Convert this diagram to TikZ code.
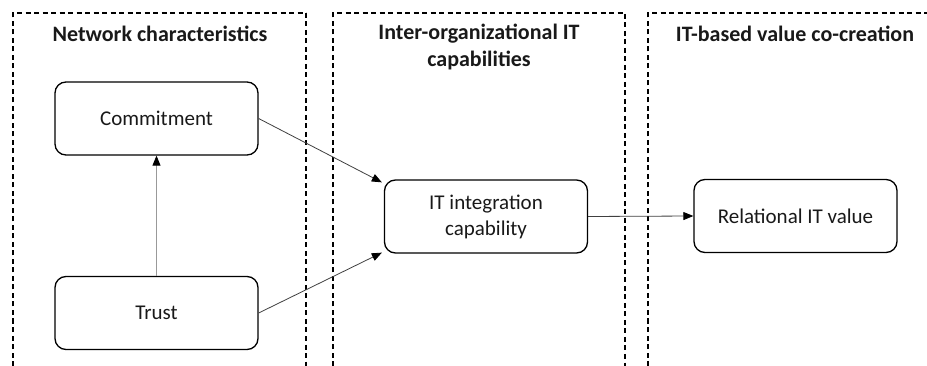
\documentclass[tikz,border=0pt]{standalone}
\usepackage{fontspec}
\setmainfont{Carlito}
\usetikzlibrary{arrows.meta}
\begin{document}
\begin{tikzpicture}[x=1pt,y=-1pt,
  panel/.style={line width=1.1pt, dash pattern=on 5pt off 3.5pt},
  panelthick/.style={line width=1.8pt, dash pattern=on 5pt off 3.5pt},
  title/.style={font=\fontsize{22}{27}\selectfont\bfseries, align=center, text=black!90},
  box/.style={draw, line width=1.3pt, rounded corners=11pt, minimum width=203pt, minimum height=73pt,
    align=center, font=\fontsize{21}{26}\selectfont, text=black!90, inner sep=0pt},
  conn/.style={-{Triangle[length=10pt,width=8pt,color=black]}, line width=0.8pt, draw=black!75}
]
\useasboundingbox (0,0) rectangle (927,366);
\fill[white] (0,0) rectangle (927,366);
% panels
\draw[panel] (13,366) -- (13,13) -- (306,13);
\draw[panelthick] (306,13) -- (306,366);
\draw[panel] (333,366) -- (333,13) -- (625,13) -- (625,366);
\draw[panel] (648,366) -- (648,13) -- (940,13);
% titles
\node[title] (t1) at (160,34) {Network characteristics};
\node[title] (t2) at (479,47) {Inter-organizational IT\\capabilities};
\node[title] (t3) at (795,34) {IT-based value co-creation};
% boxes
\node[box] (com) at (156.5,118.5) {Commitment};
\node[box] (tr) at (156.5,313) {Trust};
\node[box] (it) at (486,216.5) {IT integration\\capability};
\node[box] (rel) at (795.5,216) {Relational IT value};
% connectors
\draw[conn, draw=black!40] (tr.north) -- (com.south);
\draw[conn] (com.east) -- ([shift={(-2,3)}]it.north west);
\draw[conn] (tr.east) -- ([shift={(-2,-1)}]it.south west);
\draw[conn] (it.east) -- (rel.west);
\end{tikzpicture}
\end{document}
